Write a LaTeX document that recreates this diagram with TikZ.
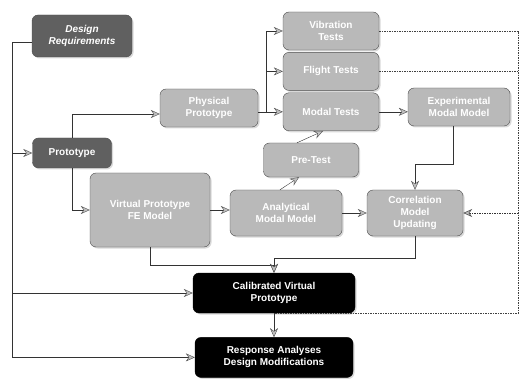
\documentclass[tikz,border=0pt]{standalone}
\usepackage{fontspec}
\setmainfont{Liberation Sans}
\usetikzlibrary{arrows.meta, positioning, shadows}

\begin{document}
\begin{tikzpicture}[
    x=1pt, y=-1pt,
    every node/.style={font=\bfseries, text=white},
    box/.style={draw=gray!60!black, rounded corners=6pt, align=center, fill=gray!55, inner sep=2pt,
        drop shadow={opacity=0.3, shadow xshift=1.5pt, shadow yshift=-1.5pt}},
    darkbox/.style={box, fill=gray!75!black},
    blackbox/.style={box, fill=black, draw=black},
    arrow/.style={->, >={Stealth[length=9pt, width=8pt, fill=gray!50, color=black!70]}, draw=black!80},
    feedback/.style={dash pattern=on 1.5pt off 1pt, line width=0.6pt, draw=black!75}
]
\useasboundingbox (0,0) rectangle (524,379);

\node (req) [darkbox, font=\bfseries\itshape, minimum width=100pt, minimum height=42pt] at (82,36) {Design\\Requirements};
\node (proto) [darkbox, minimum width=79pt, minimum height=30pt] at (72,153) {Prototype};
\node (phys) [box, minimum width=98pt, minimum height=38pt] at (209,108) {Physical\\Prototype};

\node (vib) [box, minimum width=96pt, minimum height=38pt] at (331,31) {Vibration\\Tests};
\node (flight) [box, minimum width=96pt, minimum height=38pt, below=2pt of vib] {Flight Tests};
\node (modal) [box, minimum width=96pt, minimum height=38pt, below=2pt of flight] {Modal Tests};
\node (exp) [box, minimum width=102pt, minimum height=38pt] at (459,107) {Experimental\\Modal Model};

\node (pre) [box, minimum width=95pt, minimum height=34pt] at (311,160) {Pre-Test};
\node (virt) [box, minimum width=120pt, minimum height=74pt] at (150,210) {Virtual Prototype\\FE Model};
\node (anal) [box, minimum width=112pt, minimum height=46pt] at (286,213) {Analytical\\Modal Model};
\node (corr) [box, minimum width=96pt, minimum height=46pt] at (415,213) {Correlation\\Model\\Updating};

\node (calib) [blackbox, minimum width=162pt, minimum height=40pt] at (274,293) {Calibrated Virtual\\Prototype};
\node (resp) [blackbox, minimum width=158pt, minimum height=40pt, below=24pt of calib] {Response Analyses\\Design Modifications};

% left and right rails
\coordinate (lft) at (12,0);
\coordinate (rgt) at (518,0);

\draw [arrow] ([yshift=-6pt]req.west) -| (lft |- resp.west) -- (resp.west);
\draw [arrow] (lft |- proto.west) -- (proto.west);
\draw [arrow] (lft |- calib.west) -- (calib.west);

\draw [arrow] (proto.north) |- ([yshift=-6pt]phys.west);
\draw [arrow] (proto.south) |- (virt.west);

\draw [arrow] (phys.east |- modal.west) -- (modal.west);
\draw [arrow] ([xshift=8pt]phys.east |- modal.west) |- (vib.west);
\draw [arrow] ([xshift=8pt]phys.east |- modal.west) |- (flight.west);
\draw [arrow] (modal.east) -- (modal.east -| exp.west);

\draw [arrow] ([xshift=-6pt]exp.south) -- ++(0,38) -| (corr.north);
\draw [arrow] ([xshift=-6pt]anal.north) -- ([xshift=-12pt]pre.south);
\draw [arrow] ([xshift=-14pt]pre.north) -- ([xshift=-8pt]modal.south);

\draw [arrow] (virt.east) -- (virt.east -| anal.west);
\draw [arrow] (anal.east) -- (anal.east -| corr.west);

\draw [arrow] (corr.south) |- ([yshift=15pt]calib.north) -- (calib.north);
\draw [arrow] (virt.south) |- ([yshift=8pt]calib.north) -- (calib.north);
\draw [arrow] (calib.south) -- (resp.north);

% test results fed back
\draw [feedback] (vib.east) -| (rgt |- calib.south) -- (calib.south);
\draw [feedback] (flight.east) -- (flight.east -| rgt);
\draw [feedback, arrow] (rgt |- corr.east) -- (corr.east);

\end{tikzpicture}
\end{document}
